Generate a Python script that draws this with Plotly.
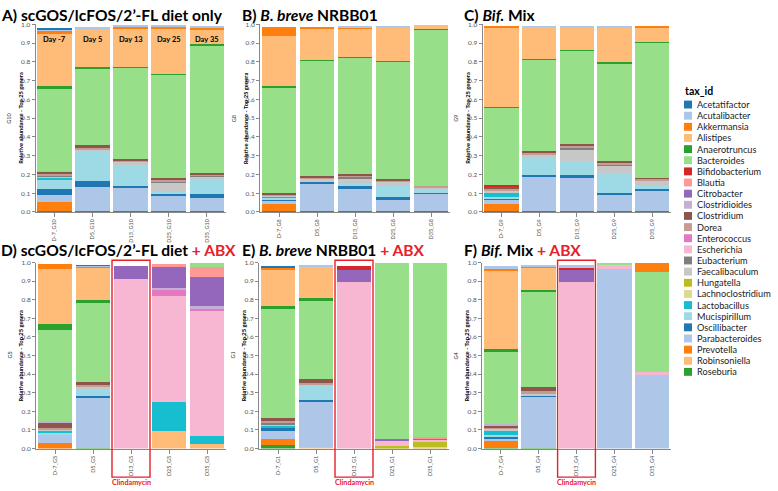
import plotly.graph_objects as go

# ---------------- data ----------------
genera = ["Acetatifactor", "Acutalibacter", "Akkermansia", "Alistipes", "Anaerotruncus",
          "Bacteroides", "Bifidobacterium", "Blautia", "Citrobacter", "Clostridioides",
          "Clostridium", "Dorea", "Enterococcus", "Escherichia", "Eubacterium",
          "Faecalibaculum", "Hungatella", "Lachnoclostridium", "Lactobacillus",
          "Mucispirillum", "Oscillibacter", "Parabacteroides", "Prevotella",
          "Robinsoniella", "Roseburia"]
colors = ["#1f77b4", "#aec7e8", "#ff7f0e", "#ffbb78", "#2ca02c", "#98df8a", "#d62728",
          "#ff9896", "#9467bd", "#c5b0d5", "#8c564b", "#c49c94", "#e377c2", "#f7b6d2",
          "#7f7f7f", "#c7c7c7", "#bcbd22", "#dbdb8d", "#17becf", "#9edae5", "#1f77b4",
          "#aec7e8", "#ff7f0e", "#ffbb78", "#2ca02c"]
days = ["D-7", "D5", "D13", "D25", "D35"]
day_labels = ["Day -7", "Day 5", "Day 13", "Day 25", "Day 35"]

g10 = {
    "Acetatifactor": [0.010, 0, 0, 0, 0],
    "Acutalibacter": [0.007, 0.005, 0.005, 0.005, 0.005],
    "Akkermansia": [0.018, 0, 0.010, 0.010, 0.010],
    "Alistipes": [0.276, 0.200, 0.200, 0.240, 0.075],
    "Anaerotruncus": [0.016, 0.010, 0.005, 0.005, 0.007],
    "Bacteroides": [0.436, 0.410, 0.490, 0.550, 0.678],
    "Clostridioides": [0.003, 0, 0, 0, 0],
    "Clostridium": [0.014, 0.012, 0.010, 0.010, 0.010],
    "Dorea": [0.010, 0.010, 0.005, 0.010, 0.010],
    "Eubacterium": [0.004, 0, 0, 0.005, 0.005],
    "Faecalibaculum": [0.008, 0.008, 0.015, 0.050, 0.010],
    "Lactobacillus": [0.012, 0, 0, 0, 0],
    "Mucispirillum": [0.045, 0.160, 0.110, 0.010, 0.080],
    "Oscillibacter": [0.034, 0.030, 0.010, 0.010, 0.020],
    "Parabacteroides": [0.037, 0.131, 0.125, 0.080, 0.070],
    "Prevotella": [0.047, 0, 0, 0, 0],
    "Roseburia": [0.005, 0.004, 0.005, 0.005, 0.005],
}
g8 = {
    "Acutalibacter": [0, 0, 0.005, 0.006, 0],
    "Akkermansia": [0.045, 0.012, 0.005, 0, 0],
    "Alistipes": [0.268, 0.165, 0.147, 0.178, 0.022],
    "Anaerotruncus": [0.009, 0.007, 0.006, 0.006, 0.003],
    "Bacteroides": [0.560, 0.613, 0.617, 0.622, 0.834],
    "Clostridium": [0.010, 0.010, 0.010, 0.010, 0],
    "Dorea": [0.006, 0.006, 0.010, 0.008, 0.006],
    "Eubacterium": [0, 0, 0.007, 0, 0],
    "Faecalibaculum": [0.005, 0.008, 0.025, 0.020, 0.008],
    "Lactobacillus": [0.007, 0, 0, 0, 0],
    "Mucispirillum": [0.010, 0.006, 0.015, 0.058, 0.022],
    "Oscillibacter": [0.005, 0.010, 0.013, 0.014, 0.006],
    "Parabacteroides": [0.020, 0.146, 0.121, 0.062, 0.090],
    "Prevotella": [0.035, 0, 0, 0, 0],
    "Roseburia": [0.005, 0.004, 0.004, 0.004, 0.004],
}
g9 = {
    "Acutalibacter": [0, 0.004, 0.006, 0.008, 0],
    "Akkermansia": [0.005, 0, 0, 0, 0.004],
    "Alistipes": [0.420, 0.168, 0.118, 0.179, 0.074],
    "Anaerotruncus": [0.005, 0.006, 0.006, 0.010, 0.004],
    "Bacteroides": [0.412, 0.483, 0.495, 0.516, 0.722],
    "Bifidobacterium": [0.008, 0, 0, 0, 0],
    "Clostridium": [0.010, 0.012, 0.013, 0.010, 0.007],
    "Dorea": [0.010, 0.009, 0.008, 0.011, 0.007],
    "Eubacterium": [0.005, 0, 0.009, 0.007, 0],
    "Faecalibaculum": [0.010, 0.012, 0.063, 0.039, 0.025],
    "Lactobacillus": [0.022, 0, 0, 0, 0],
    "Mucispirillum": [0.006, 0.098, 0.074, 0.104, 0.019],
    "Oscillibacter": [0.008, 0.010, 0.014, 0.015, 0.014],
    "Parabacteroides": [0.020, 0.182, 0.178, 0.084, 0.106],
    "Prevotella": [0.040, 0, 0, 0, 0],
    "Roseburia": [0.004, 0.004, 0.004, 0.004, 0.004],
}
g5 = {
    "Acetatifactor": [0, 0.003, 0, 0, 0],
    "Acutalibacter": [0, 0.005, 0, 0, 0],
    "Akkermansia": [0.025, 0.005, 0, 0, 0],
    "Alistipes": [0.297, 0.177, 0, 0, 0],
    "Anaerotruncus": [0.028, 0.010, 0, 0, 0],
    "Bacteroides": [0.492, 0.430, 0, 0, 0.025],
    "Blautia": [0, 0, 0, 0.015, 0.055],
    "Citrobacter": [0, 0, 0.072, 0.113, 0.152],
    "Clostridioides": [0.008, 0, 0, 0.012, 0.018],
    "Clostridium": [0.029, 0.016, 0, 0, 0],
    "Dorea": [0.006, 0.007, 0, 0, 0],
    "Enterococcus": [0, 0, 0, 0.030, 0.012],
    "Escherichia": [0, 0, 0.910, 0.570, 0.668],
    "Faecalibaculum": [0.008, 0.008, 0, 0, 0],
    "Lactobacillus": [0.010, 0, 0, 0.157, 0.045],
    "Mucispirillum": [0.007, 0.045, 0, 0, 0],
    "Oscillibacter": [0, 0.012, 0, 0, 0],
    "Parabacteroides": [0.050, 0.266, 0, 0, 0],
    "Prevotella": [0.030, 0, 0, 0, 0],
    "Robinsoniella": [0, 0, 0, 0.093, 0.025],
    "Roseburia": [0, 0.004, 0, 0, 0],
}
g1 = {
    "Acetatifactor": [0.005, 0, 0, 0, 0],
    "Acutalibacter": [0.003, 0.006, 0, 0, 0],
    "Akkermansia": [0.010, 0, 0, 0, 0],
    "Alistipes": [0.200, 0.172, 0, 0, 0],
    "Anaerotruncus": [0.015, 0.010, 0, 0, 0],
    "Bacteroides": [0.585, 0.425, 0, 0.948, 0.940],
    "Bifidobacterium": [0, 0, 0.022, 0, 0],
    "Blautia": [0, 0, 0, 0, 0.005],
    "Citrobacter": [0, 0, 0.065, 0.012, 0.006],
    "Clostridium": [0.015, 0.020, 0, 0, 0],
    "Dorea": [0.010, 0.007, 0, 0, 0],
    "Escherichia": [0, 0, 0.895, 0.026, 0.010],
    "Eubacterium": [0.007, 0, 0, 0, 0],
    "Faecalibaculum": [0.008, 0.008, 0, 0, 0],
    "Hungatella": [0, 0, 0, 0.010, 0.030],
    "Lachnoclostridium": [0, 0, 0, 0.004, 0.005],
    "Lactobacillus": [0.010, 0, 0, 0, 0],
    "Mucispirillum": [0, 0.077, 0, 0, 0],
    "Oscillibacter": [0.020, 0.008, 0, 0, 0],
    "Parabacteroides": [0.045, 0.249, 0, 0, 0],
    "Prevotella": [0.032, 0, 0, 0, 0],
    "Robinsoniella": [0, 0.006, 0, 0, 0.004],
    "Roseburia": [0.018, 0, 0, 0, 0],
}
g4 = {
    "Acutalibacter": [0.010, 0.005, 0.010, 0, 0],
    "Akkermansia": [0.018, 0.005, 0, 0, 0.053],
    "Alistipes": [0.421, 0.127, 0, 0, 0],
    "Anaerotruncus": [0.014, 0.006, 0, 0, 0],
    "Bacteroides": [0.388, 0.512, 0, 0.013, 0.537],
    "Bifidobacterium": [0, 0, 0.020, 0, 0],
    "Citrobacter": [0, 0, 0.065, 0, 0],
    "Clostridioides": [0.006, 0, 0, 0, 0],
    "Clostridium": [0.010, 0.025, 0, 0, 0],
    "Dorea": [0.008, 0.008, 0, 0, 0],
    "Escherichia": [0, 0, 0.893, 0.017, 0.017],
    "Faecalibaculum": [0.008, 0.010, 0, 0, 0],
    "Lactobacillus": [0.026, 0, 0, 0, 0],
    "Mucispirillum": [0.006, 0, 0, 0, 0],
    "Oscillibacter": [0.010, 0.010, 0, 0, 0],
    "Parabacteroides": [0.018, 0.276, 0, 0.968, 0.393],
    "Prevotella": [0.036, 0, 0, 0, 0],
    "Roseburia": [0.004, 0.004, 0, 0, 0],
}

RED = "#e8202a"
titles = [
    "A) scGOS/lcFOS/2’-FL diet only",
    "B) <i>B. breve</i> NRBB01",
    "C) <i>Bif.</i> Mix",
    f"D) scGOS/lcFOS/2’-FL diet <span style='color:{RED}'>+ ABX</span>",
    f"E) <i>B. breve</i> NRBB01 <span style='color:{RED}'>+ ABX</span>",
    f"F) <i>Bif.</i> Mix <span style='color:{RED}'>+ ABX</span>",
]
groups = ["G10", "G8", "G9", "G5", "G1", "G4"]
datasets = [g10, g8, g9, g5, g1, g4]

# ---------------- layout geometry (pixels) ----------------
W, H = 778, 491
FONT = "Lato"
xdom_px = [(35.5, 226), (260, 450), (482.5, 671), (36, 226), (259, 449), (482, 671)]
ydom_px = [(20.7, 211), (262.3, 451)]
title_x_px = [0, 241, 463, 0, 241, 463]
title_y_px = [11.5, 249.5]


def px(x):
    return x / W


def py(y):
    return 1 - y / H


fig = go.Figure()
layout = dict(
    width=W, height=H, margin=dict(l=0, r=0, t=0, b=0),
    paper_bgcolor="white", plot_bgcolor="white",
    barmode="stack", bargap=0.085, showlegend=False,
    font=dict(family=FONT, color="#222"),
)
annotations = []
shapes = []

for i, (grp, data) in enumerate(zip(groups, datasets)):
    sfx = "" if i == 0 else str(i + 1)
    row = 0 if i < 3 else 1
    cats = [f"{d}_{grp}" for d in days]
    for g in reversed(genera):
        vals = data.get(g, [0] * len(days))
        fig.add_trace(go.Bar(
            x=cats, y=vals, name=g,
            marker=dict(color=colors[genera.index(g)], line=dict(width=0)),
            xaxis="x" + sfx, yaxis="y" + sfx, showlegend=False,
            hovertemplate=g + ": %{y}<extra></extra>",
        ))
    x0, x1 = xdom_px[i]
    yt, yb = ydom_px[row]
    layout["xaxis" + sfx] = dict(
        domain=[px(x0), px(x1)], anchor="y" + sfx, type="category",
        categoryorder="array", categoryarray=cats,
        showline=True, linecolor="#888", linewidth=1,
        ticks="outside", ticklen=4, tickcolor="#888", tickangle=-90,
        tickfont=dict(size=5.5, color="#555", family=FONT),
        showgrid=False, zeroline=False, fixedrange=True,
    )
    layout["yaxis" + sfx] = dict(
        domain=[py(yb), py(yt)], anchor="x" + sfx, range=[0, 1],
        tickvals=[k / 10 for k in range(11)], tickformat=".1f",
        showline=True, linecolor="#888", linewidth=1,
        ticks="outside", ticklen=3, tickcolor="#888",
        tickfont=dict(size=6.5, color="#555", family=FONT),
        showgrid=False, zeroline=False, fixedrange=True,
    )
    # panel title
    annotations.append(dict(
        text="<b>" + titles[i] + "</b>", xref="paper", yref="paper",
        x=px(title_x_px[i]), y=py(title_y_px[row]), xanchor="left", yanchor="middle",
        align="left", showarrow=False, borderpad=0,
        font=dict(size=15.6, color="black", family=FONT),
    ))
    # y-axis titles
    ymid = py((yt + yb) / 2)
    annotations.append(dict(
        text="<b>Relative abundance - Top 25 genera</b>", xref="paper", yref="paper",
        x=px(x0 - 15), y=ymid, textangle=-90, showarrow=False,
        xanchor="center", yanchor="middle",
        font=dict(size=5.8, color="black", family=FONT),
    ))
    annotations.append(dict(
        text=grp, xref="paper", yref="paper",
        x=px(x0 - 26), y=ymid, textangle=-90, showarrow=False,
        xanchor="center", yanchor="middle",
        font=dict(size=5.5, color="#333", family=FONT),
    ))
    # clindamycin markers on ABX panels
    if i >= 3:
        shapes.append(dict(
            type="rect", xref="x" + sfx, yref="paper",
            x0=1.5, x1=2.5, y0=py(480), y1=py(260),
            line=dict(color=RED, width=1.4), fillcolor="rgba(0,0,0,0)", layer="above",
        ))
        annotations.append(dict(
            text="<b>Clindamycin</b>", xref="x" + sfx, yref="paper",
            x=cats[2], y=py(485.5), showarrow=False, xanchor="center", yanchor="middle",
            borderpad=0, font=dict(size=7.2, color=RED, family=FONT),
        ))

# day labels on panel A
for d, lab in zip(days, day_labels):
    annotations.append(dict(
        text="<b>" + lab + "</b>", xref="x", yref="y",
        x=f"{d}_G10", y=0.92, showarrow=False, xanchor="center", yanchor="middle",
        font=dict(size=7.5, color="black", family=FONT),
    ))

# legend (drawn manually)
annotations.append(dict(
    text="<b>tax_id</b>", xref="paper", yref="paper", x=px(683), y=py(88),
    xanchor="left", yanchor="middle", align="left", showarrow=False,
    font=dict(size=10.5, color="black", family=FONT),
))
for k, g in enumerate(genera):
    yc = 102 + k * 11.3
    shapes.append(dict(
        type="rect", xref="paper", yref="paper",
        x0=px(684), x1=px(692), y0=py(yc + 4), y1=py(yc - 4),
        fillcolor=colors[k], line=dict(width=0),
    ))
    annotations.append(dict(
        text=g, xref="paper", yref="paper", x=px(696), y=py(yc),
        xanchor="left", yanchor="middle", align="left", showarrow=False,
        borderpad=0, font=dict(size=9.2, color="#222", family=FONT),
    ))

layout["annotations"] = annotations
layout["shapes"] = shapes
fig.update_layout(**layout)
fig.write_html("out.html", config={"displayModeBar": False},
               post_script="document.body.style.margin='0';")
